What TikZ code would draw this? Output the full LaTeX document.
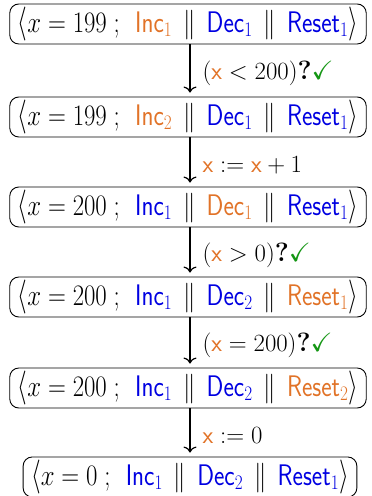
\documentclass[tikz,border=0pt]{standalone}
\usepackage{amsmath,amssymb,graphicx}
\usetikzlibrary{arrows.meta}
\definecolor{myor}{RGB}{225,115,40}
\definecolor{mybl}{RGB}{0,0,225}
\definecolor{mygr}{RGB}{20,150,20}
\newcommand{\oI}[1]{\textcolor{myor}{\mathsf{Inc}_{#1}}}
\newcommand{\bI}[1]{\textcolor{mybl}{\mathsf{Inc}_{#1}}}
\newcommand{\oD}[1]{\textcolor{myor}{\mathsf{Dec}_{#1}}}
\newcommand{\bD}[1]{\textcolor{mybl}{\mathsf{Dec}_{#1}}}
\newcommand{\oR}[1]{\textcolor{myor}{\mathsf{Reset}_{#1}}}
\newcommand{\bR}[1]{\textcolor{mybl}{\mathsf{Reset}_{#1}}}
\newcommand{\ox}{\textcolor{myor}{\mathsf{x}}}
\newcommand{\pl}{\mathrel{\,\parallel\,}}
\newcommand{\st}[4]{\scalebox{1}[1.37]{$\langle$}\scalebox{1}[1.2]{$x = #1\;;\;\, #2 \pl #3 \pl #4$}\scalebox{1}[1.37]{$\rangle$}}
\newcommand{\ok}{\textbf{?}\textcolor{mygr}{\checkmark}}
\begin{document}
\begin{tikzpicture}[x=1bp,y=1bp,
  state/.style={draw,line width=0.9bp,rounded corners=9bp,inner xsep=8bp,inner ysep=0pt,
    minimum height=40bp,font=\fontsize{25.5}{30}\selectfont},
  trans/.style={line width=1.2bp,-{Computer Modern Rightarrow[length=6bp,width=13bp,line width=1.2bp]},shorten >=4bp},
  lab/.style={anchor=west,font=\fontsize{26.5}{30}\selectfont,inner sep=0pt}]
\useasboundingbox (0,0) rectangle (371,-496);
\node[state] (s1) at (188,-24) {\st{199}{\oI1}{\bD1}{\bR1}};
\node[state] (s2) at (188,-117) {\st{199}{\oI2}{\bD1}{\bR1}};
\node[state] (s3) at (188,-207) {\st{200}{\bI1}{\oD1}{\bR1}};
\node[state] (s4) at (188,-297) {\st{200}{\bI1}{\bD2}{\oR1}};
\node[state] (s5) at (188,-388) {\st{200}{\bI1}{\bD2}{\oR2}};
\node[state] (s6) at (190,-477) {\st{0}{\bI1}{\bD2}{\bR1}};
\foreach \a/\b/\t in {s1/s2/{$(\ox < 200)$\ok},s2/s3/{$\ox \mathrel{:=} \ox + 1$},s3/s4/{$(\ox > 0)$\ok},s4/s5/{$(\ox = 200)$\ok},s5/s6/{$\ox \mathrel{:=} 0$}}{
  \draw[trans] (\a.south -| 190,0) -- (\b.north -| 190,0)
    node[lab,pos=0.5,xshift=12bp,yshift=-3bp] {\t};
}
\end{tikzpicture}
\end{document}
